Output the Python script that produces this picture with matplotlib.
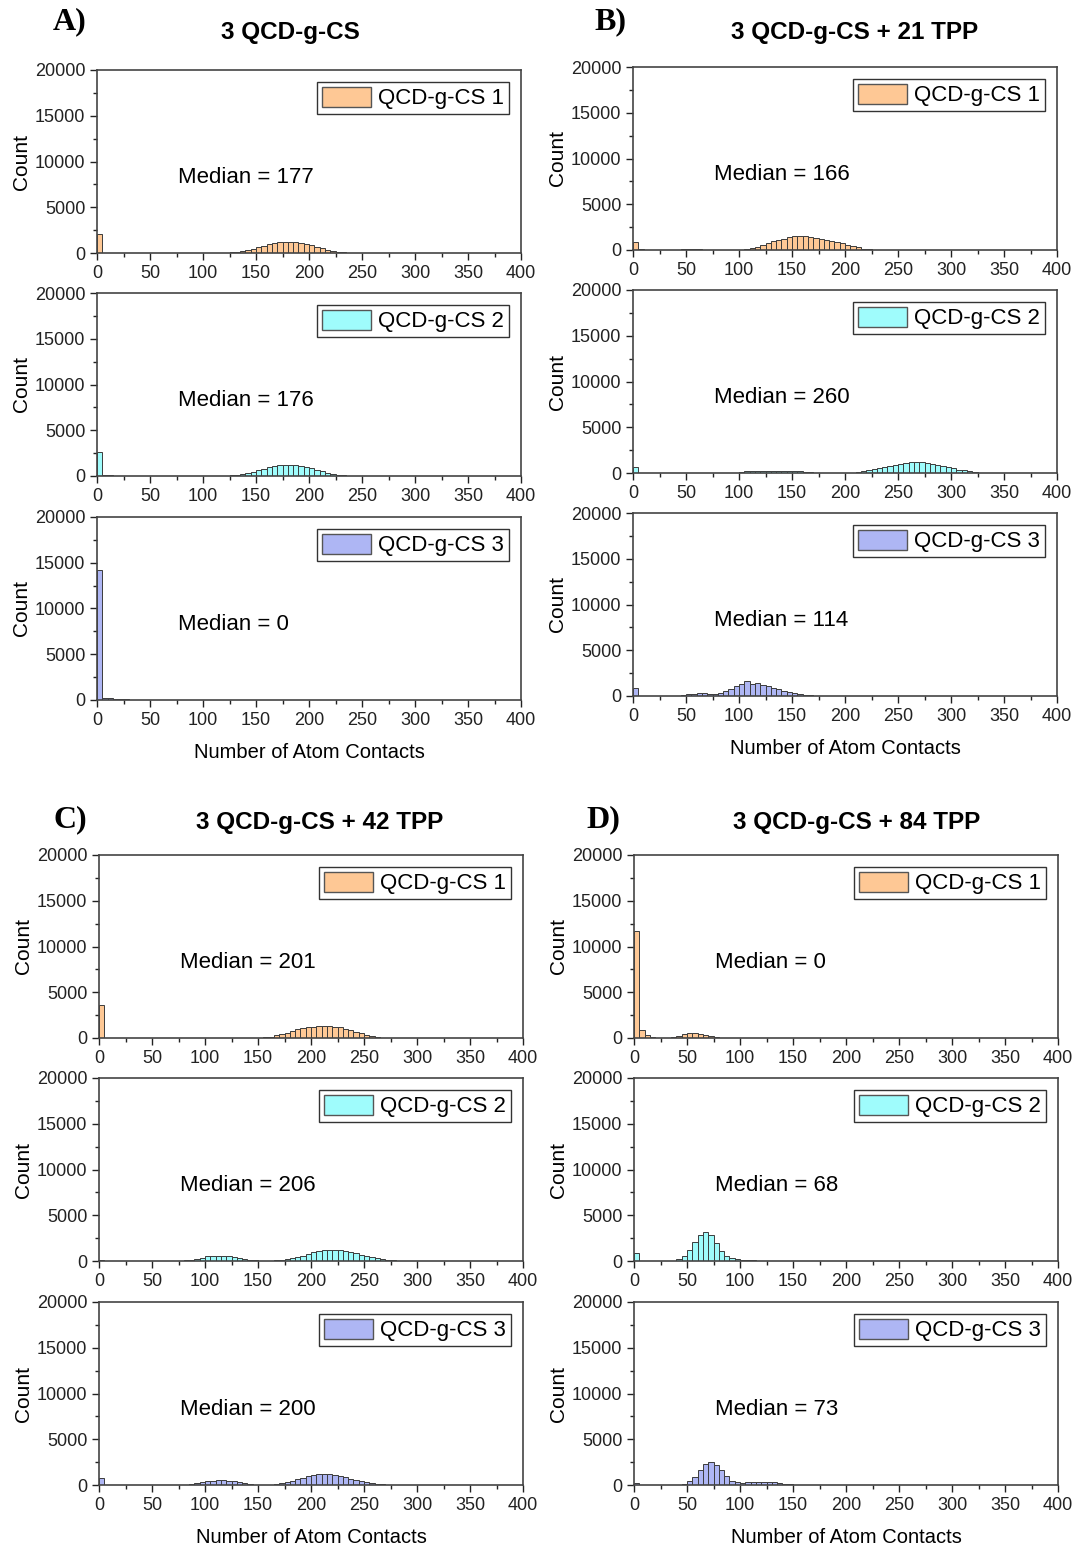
import numpy as np
import matplotlib.pyplot as plt
from matplotlib.patches import Patch
from matplotlib.ticker import MultipleLocator

plt.rcParams['font.family'] = ['Liberation Sans', 'DejaVu Sans']

W, H = 1082, 1547
BIN = 5
EDGES = np.arange(0, 400 + BIN, BIN)

panel_titles = ['3 QCD-g-CS', '3 QCD-g-CS + 21 TPP', '3 QCD-g-CS + 42 TPP', '3 QCD-g-CS + 84 TPP']
panel_letters = ['A)', 'B)', 'C)', 'D)']
series_names = ['QCD-g-CS 1', 'QCD-g-CS 2', 'QCD-g-CS 3']
series_colors = ['#FEC895', '#9FFCFC', '#AEB6F4']

# medians, row = chain, column = panel
medians_a = [177, 176, 0]
medians_b = [166, 260, 114]
medians_c = [201, 206, 200]
medians_d = [0, 68, 73]

# counts per 5-contact bin; key = left edge of the first bin in a run
a1 = {0: [2100],
      120: [30, 80, 150, 250, 350, 480, 620, 780, 950, 1080, 1180, 1200, 1200, 1150,
            1050, 950, 820, 680, 520, 380, 250, 130, 60]}
a2 = {0: [2650, 80, 60, 40, 30, 20],
      120: [30, 80, 150, 250, 350, 480, 620, 780, 950, 1080, 1180, 1220, 1200, 1150,
            1050, 950, 820, 680, 520, 380, 250, 130, 60, 30],
      240: [20, 20, 20, 20, 20, 20, 20, 20, 20, 20, 20, 20, 20, 20, 20, 20, 20, 20,
            20, 20, 20, 20, 20, 20, 20, 20, 20, 20, 20, 20, 20, 20]}
a3 = {0: [14200, 250, 200, 120, 80, 60, 50, 40, 30, 20]}

b1 = {0: [850, 100],
      45: [60, 60, 60, 60],
      100: [40, 120, 250, 380, 520, 780, 950, 1100, 1250, 1400, 1520, 1580, 1550, 1420,
            1330, 1230, 1120, 1030, 880, 720, 560, 400, 280, 160, 90, 50, 30, 15, 10]}
b2 = {0: [660],
      85: [20, 30, 50, 150, 200, 220, 230, 240, 240, 230, 230, 220, 220, 200, 180, 120, 60,
           30, 20, 20, 20, 20, 20, 20, 50, 80, 200, 300, 420, 550, 680, 800, 900, 1000,
           1080, 1150, 1170, 1150, 1080, 1000, 920, 800, 650, 500, 380, 280, 180, 100,
           50, 30, 20, 10]}
b3 = {0: [840],
      40: [30, 100, 200, 250, 300, 300, 250, 200, 300, 500, 800, 1050, 1300, 1600,
           1350, 1450, 1250, 1100, 900, 750, 550, 400, 280, 180, 110, 60, 40, 20]}

c1 = {0: [3620],
      95: [30, 30, 30, 30, 30, 30, 30, 30],
      150: [30, 80, 150, 300, 450, 600, 800, 950, 1100, 1180, 1230, 1300, 1320, 1300,
            1230, 1150, 1000, 850, 680, 500, 350, 220, 120, 50, 20]}
c2 = {0: [80],
      75: [30, 80, 150, 250, 380, 500, 570, 590, 580, 540, 450, 350, 250, 150, 80, 40,
           30, 30, 60, 120, 200, 300, 450, 600, 800, 950, 1080, 1150, 1170, 1170, 1150,
           1050, 950, 850, 700, 550, 420, 320, 220, 120, 60, 30]}
c3 = {0: [760],
      80: [30, 80, 200, 320, 420, 480, 500, 500, 470, 400, 300, 200, 100, 50, 30, 20,
           40, 100, 200, 300, 450, 650, 800, 950, 1100, 1180, 1200, 1180, 1100, 950,
           820, 680, 560, 450, 350, 250, 150, 80, 30]}

d1 = {0: [11700, 830, 360, 110, 30, 20, 20,
          60, 250, 420, 600, 560, 450, 350, 220, 100, 30]}
d2 = {0: [870],
      35: [30, 200, 500, 1190, 2060, 2860, 3220, 2790, 1990, 1090, 580, 330, 220, 140,
           80, 60, 50, 40, 30, 30, 20]}
d3 = {0: [180],
      40: [50, 150, 400, 900, 1630, 2280, 2460, 2170, 1630, 940, 470, 290, 220, 300,
           350, 360, 360, 340, 300, 250, 120, 60, 30]}

panels = [
    (panel_titles[0], panel_letters[0], [a1, a2, a3], medians_a),
    (panel_titles[1], panel_letters[1], [b1, b2, b3], medians_b),
    (panel_titles[2], panel_letters[2], [c1, c2, c3], medians_c),
    (panel_titles[3], panel_letters[3], [d1, d2, d3], medians_d),
]

# pixel layout: (axes left, list of axes tops, letter x, letter y, title x, title y)
layout = [
    (97, [70, 293, 517], 70, 22, 290, 33),
    (633, [67, 290, 513], 610, 22, 855, 33),
    (99, [855, 1078, 1302], 70, 820, 320, 822),
    (634, [855, 1078, 1302], 603, 820, 857, 822),
]
AX_W, AX_H = 424, 183


def to_bins(runs):
    counts = np.zeros(len(EDGES) - 1)
    for start, vals in runs.items():
        i = start // BIN
        counts[i:i + len(vals)] = vals
    return counts


def add_px_axes(fig, left, top):
    return fig.add_axes([left / W, 1 - (top + AX_H) / H, AX_W / W, AX_H / H])


fig = plt.figure(figsize=(W / 100, H / 100), dpi=100)

for (title, letter, runs_list, meds), (left, tops, lx, ly, tx, ty) in zip(panels, layout):
    fig.text(lx / W, 1 - ly / H, letter, family='Liberation Serif', fontweight='bold',
             fontsize=23, ha='center', va='center')
    fig.text(tx / W, 1 - ty / H, title, fontweight='bold', fontsize=17.5,
             ha='center', va='center')
    for k, (runs, med, top) in enumerate(zip(runs_list, meds, tops)):
        ax = add_px_axes(fig, left, top)
        counts = to_bins(runs)
        keep = counts > 0
        ax.bar(EDGES[:-1][keep], counts[keep], width=BIN, align='edge',
               color=series_colors[k], edgecolor='#3c3c3c', linewidth=0.7)
        ax.set_xlim(0, 400)
        ax.set_ylim(0, 20000)
        ax.xaxis.set_major_locator(MultipleLocator(50))
        ax.xaxis.set_minor_locator(MultipleLocator(25))
        ax.yaxis.set_major_locator(MultipleLocator(5000))
        ax.yaxis.set_minor_locator(MultipleLocator(2500))
        ax.tick_params(which='both', direction='out', labelsize=13, colors='#222222')
        ax.tick_params(which='major', length=5, width=1)
        ax.tick_params(which='minor', length=3, width=1)
        for s in ax.spines.values():
            s.set_color('#444444')
            s.set_linewidth(1.2)
        ax.set_ylabel('Count', fontsize=15, labelpad=3)
        ax.text(0.19, 0.41, f'Median = {med}', transform=ax.transAxes, fontsize=16,
                ha='left', va='center')
        leg = ax.legend(handles=[Patch(facecolor=series_colors[k], edgecolor='#555555',
                                       label=series_names[k])],
                        loc='upper right', fontsize=16, fancybox=False,
                        edgecolor='#333333', framealpha=1, handlelength=2.2,
                        handleheight=1.0, borderpad=0.2, handletextpad=0.35,
                        borderaxespad=0.55)
        leg.get_frame().set_linewidth(1.0)
        if k == 2:
            ax.set_xlabel('Number of Atom Contacts', fontsize=14.5, labelpad=10)

fig.savefig('out.png', dpi=100)
